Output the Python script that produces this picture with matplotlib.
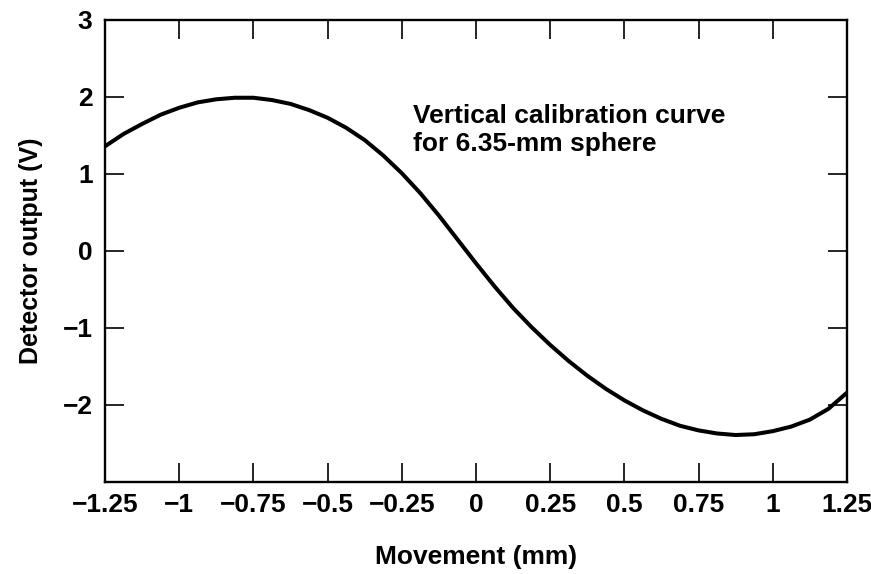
import matplotlib
matplotlib.use("Agg")
import matplotlib.pyplot as plt
import numpy as np

plt.rcParams['font.family'] = ['Liberation Sans', 'DejaVu Sans']
plt.rcParams['font.weight'] = 'bold'

# calibration curve, read every 0.0625 mm
movement = np.arange(-1.25, 1.25 + 1e-9, 0.0625)
output = [1.36, 1.52, 1.65, 1.77, 1.86, 1.93, 1.97, 1.99, 1.99, 1.96,
          1.91, 1.83, 1.73, 1.60, 1.44, 1.24, 1.01, 0.75, 0.46, 0.15,
          -0.16, -0.46, -0.74, -0.99, -1.22, -1.43, -1.62, -1.79, -1.94, -2.07,
          -2.18, -2.27, -2.33, -2.37, -2.39, -2.38, -2.34, -2.28, -2.19, -2.05,
          -1.84]

xticks = [-1.25, -1, -0.75, -0.5, -0.25, 0, 0.25, 0.5, 0.75, 1, 1.25]
xlabels = ['\u22121.25', '\u22121', '\u22120.75', '\u22120.5', '\u22120.25',
           '0', '0.25', '0.5', '0.75', '1', '1.25']
yticks = [-2, -1, 0, 1, 2, 3]
ylabels = ['\u22122', '\u22121', '0', '1', '2', '3']

fig = plt.figure(figsize=(8.71, 5.74), dpi=100)
ax = fig.add_axes([0.1206, 0.1603, 0.8518, 0.8049])

ax.plot(movement, output, color='black', lw=2.9, solid_capstyle='butt')

ax.set_xlim(-1.25, 1.25)
ax.set_ylim(-3, 3)
ax.set_xticks(xticks)
ax.set_xticklabels(xlabels)
ax.set_yticks(yticks)
ax.set_yticklabels(ylabels)

for s in ax.spines.values():
    s.set_linewidth(1.7)

ax.tick_params(direction='in', length=14, width=1.2, top=True, right=True,
               labelsize=19)
ax.tick_params(axis='x', pad=8)
ax.tick_params(axis='y', pad=9)

ax.set_xlabel('Movement (mm)', fontsize=19, fontweight='bold', labelpad=20)
ax.set_ylabel('Detector output (V)', fontsize=18, fontweight='bold', labelpad=14)

ax.text(0.415, 0.818, 'Vertical calibration curve\nfor 6.35-mm sphere',
        transform=ax.transAxes, ha='left', va='top', fontsize=19,
        fontweight='bold', linespacing=1.2)

fig.savefig('out.png', dpi=100)
